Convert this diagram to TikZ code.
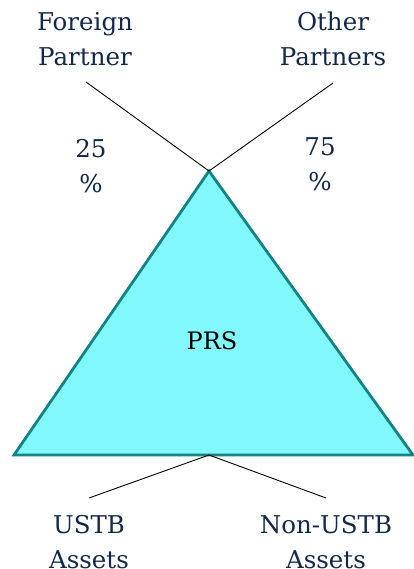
\documentclass[tikz,border=0pt]{standalone}
\usepackage{fontspec}
\setmainfont{DejaVu Serif}
\definecolor{navy}{HTML}{13294B}
\definecolor{tfill}{HTML}{80F8FC}
\definecolor{tedge}{HTML}{158383}
\begin{document}
\begin{tikzpicture}[x=1pt,y=-1pt,
  lbl/.style={text=navy,font=\fontsize{24.5}{35}\selectfont,align=center,inner sep=0pt},
  conn/.style={draw=black,line width=0.9pt}]
\useasboundingbox (0,0) rectangle (414,569);
\coordinate (apex) at (209,171);
\coordinate (bl) at (14,455);
\coordinate (br) at (413,455);
\coordinate (bm) at (209,455);
\draw[fill=tfill,draw=tedge,line width=2.8pt,line join=miter] (apex) -- (bl) -- (br) -- cycle;
\node[font=\fontsize{24}{28}\selectfont,inner sep=0pt] (prs) at (212,341) {PRS};
\coordinate (fl) at (86,82);
\coordinate (ol) at (333,83);
\coordinate (ul) at (89,498);
\coordinate (nl) at (326,498);
\draw[conn] (fl) -- (apex) -- (ol);
\draw[conn] (ul) -- (bm) -- (nl);
\node[lbl] (fp) at (85,39) {Foreign\\Partner};
\node[lbl] (op) at (333,39) {Other\\Partners};
\node[lbl] (p25) at (91,166) {25\\\%};
\node[lbl] (p75) at (320,164) {75\\\%};
\node[lbl] (ua) at (89,542) {USTB\\Assets};
\node[lbl] (na) at (326,542) {Non-USTB\\Assets};
\end{tikzpicture}
\end{document}
